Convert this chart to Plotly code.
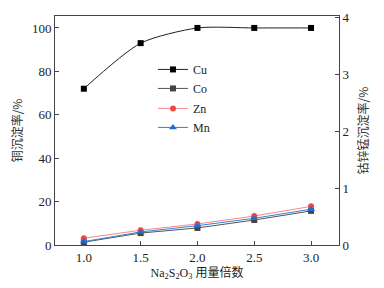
import plotly.graph_objects as go

x = [1.0, 1.5, 2.0, 2.5, 3.0]
cu = [72, 93, 100, 100, 100]
co = [0.05, 0.21, 0.30, 0.44, 0.60]
zn = [0.12, 0.26, 0.37, 0.51, 0.68]
mn = [0.06, 0.23, 0.34, 0.47, 0.63]
xticks = [1.0, 1.5, 2.0, 2.5, 3.0]
yl_ticks = [0, 20, 40, 60, 80, 100]
yr_ticks = [0, 1, 2, 3, 4]

serif = "Liberation Serif, Times New Roman, serif"
cjk = "Noto Sans CJK SC"

fig = go.Figure()
fig.add_trace(go.Scatter(x=x, y=cu, name="Cu", mode="lines+markers", legendgroup="a",
                         line=dict(color="#222", width=1, shape="spline", smoothing=0.7),
                         marker=dict(symbol="square", size=6, color="#000")))
fig.add_trace(go.Scatter(x=x, y=co, name="Co", mode="lines+markers", yaxis="y2", legendgroup="a",
                         line=dict(color="#555", width=1),
                         marker=dict(symbol="square", size=6, color="#444")))
fig.add_trace(go.Scatter(x=x, y=zn, name="Zn", mode="lines+markers", yaxis="y2", legendgroup="b",
                         line=dict(color="#f58a8a", width=1),
                         marker=dict(symbol="circle", size=6, color="#f04848")))
fig.add_trace(go.Scatter(x=x, y=mn, name="Mn", mode="lines+markers", yaxis="y2", legendgroup="b",
                         line=dict(color="#3a7fd8", width=1),
                         marker=dict(symbol="triangle-up", size=7, color="#1f6fd6")))

axcommon = dict(showgrid=False, zeroline=False, showline=True, linecolor="#444", linewidth=1,
                ticks="inside", ticklen=4, tickcolor="#444", automargin=False,
                tickfont=dict(family=serif, size=13, color="#222"))

fig.update_layout(
    width=384, height=288,
    margin=dict(l=55, r=45, t=16, b=43),
    plot_bgcolor="white", paper_bgcolor="white",
    xaxis=dict(range=[0.746, 3.246], tickvals=xticks, ticktext=[f"{v:.1f}" for v in xticks],
               mirror=True,
               title=dict(text="Na<sub>2</sub>S<sub>2</sub>O<sub>3</sub> 用量倍数",
                          font=dict(family=serif + ", " + cjk, size=12, color="#222"), standoff=4),
               **axcommon),
    yaxis=dict(range=[0, 105.5], tickvals=yl_ticks,
               title=dict(text="铜沉淀率/%", font=dict(family=cjk, size=12, color="#333"), standoff=6),
               **axcommon),
    yaxis2=dict(range=[0, 4.03], tickvals=yr_ticks, overlaying="y", side="right",
                title=dict(text="钴锌锰沉淀率/%", font=dict(family=cjk, size=12, color="#333"), standoff=11),
                **axcommon),
    legend=dict(x=0.345, y=0.83, xanchor="left", yanchor="top", bgcolor="rgba(0,0,0,0)",
                font=dict(family=serif, size=12, color="#222"), tracegroupgap=1,
                itemwidth=30, traceorder="grouped"),
    showlegend=True,
)

fig.write_html("out.html", config={"displayModeBar": False},
               post_script="document.body.style.margin='0';document.body.style.overflow='hidden';")
